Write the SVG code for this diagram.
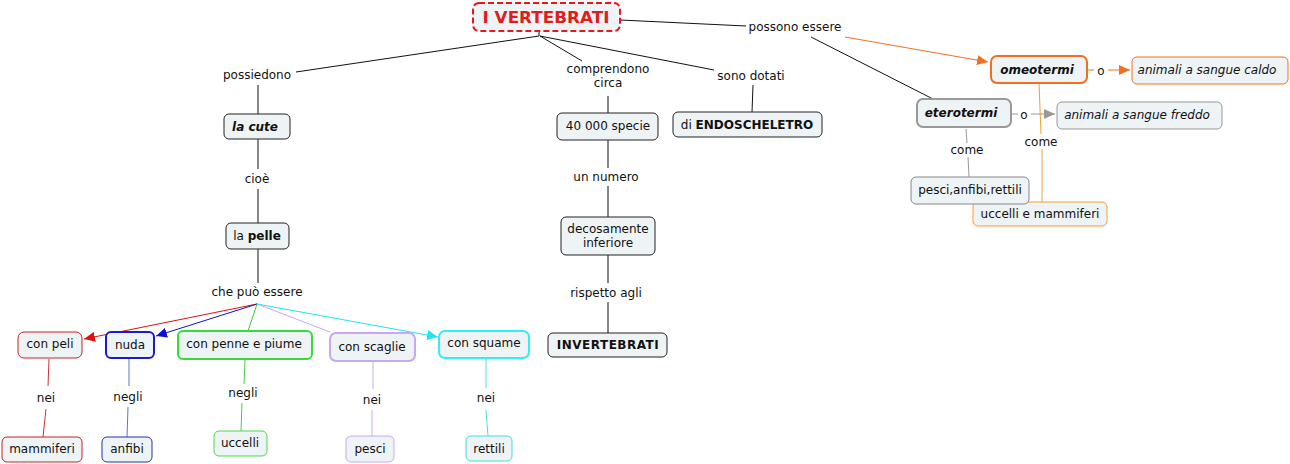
<svg xmlns="http://www.w3.org/2000/svg" width="1290" height="464" viewBox="0 0 1290 464">
<style>
text{font-family:"DejaVu Sans",Verdana,sans-serif;font-size:12px;fill:#111;text-anchor:middle}
.b{font-weight:bold}
.i{font-style:italic}
.box{fill:#eef3f5;stroke:#222;stroke-width:1}
.ln{fill:none;stroke:#111;stroke-width:1}
</style>
<defs>
<marker id="aR" markerUnits="userSpaceOnUse" markerWidth="12" markerHeight="10" refX="11" refY="5" orient="auto"><path d="M0,0 L11,5 L0,10 z" fill="#e01010"/></marker>
<marker id="aB" markerUnits="userSpaceOnUse" markerWidth="12" markerHeight="10" refX="11" refY="5" orient="auto"><path d="M0,0 L11,5 L0,10 z" fill="#1010d0"/></marker>
<marker id="aC" markerUnits="userSpaceOnUse" markerWidth="12" markerHeight="10" refX="11" refY="5" orient="auto"><path d="M0,0 L11,5 L0,10 z" fill="#22e4f0"/></marker>
<marker id="aO" markerUnits="userSpaceOnUse" markerWidth="12" markerHeight="10" refX="11" refY="5" orient="auto"><path d="M0,0 L11,5 L0,10 z" fill="#f07020"/></marker>
<marker id="aG" markerUnits="userSpaceOnUse" markerWidth="12" markerHeight="10" refX="11" refY="5" orient="auto"><path d="M0,0 L11,5 L0,10 z" fill="#999"/></marker>
</defs>

<g id="connectors">
<path class="ln" d="M539,31 L539,36"/>
<path class="ln" d="M539,36 L296,72"/>
<path class="ln" d="M540,36 L582,61"/>
<path class="ln" d="M540,36 L714,70"/>
<path class="ln" d="M620,20 L746,26"/>
<path class="ln" d="M258,85 L258,114"/>
<path class="ln" d="M258,139 L258,169"/>
<path class="ln" d="M258,189 L258,223"/>
<path class="ln" d="M258,249 L258,283"/>
<path class="ln" d="M608,96 L608,113"/>
<path class="ln" d="M608,140 L608,168"/>
<path class="ln" d="M608,186 L608,217"/>
<path class="ln" d="M608,255 L608,283"/>
<path class="ln" d="M608,302 L608,333"/>
<path class="ln" d="M753,85 L752,112"/>
<path class="ln" d="M811,37 L933,99"/>
<path d="M845,37 L988,62" fill="none" stroke="#f07020" stroke-width="1" marker-end="url(#aO)"/>
<path d="M1087,70 L1094,70" fill="none" stroke="#f07020" stroke-width="1"/>
<path d="M1108,70 L1130,70" fill="none" stroke="#f07020" stroke-width="1" marker-end="url(#aO)"/>
<path d="M1011,114 L1018,114" fill="none" stroke="#999" stroke-width="1"/>
<path d="M1031,114 L1055,114" fill="none" stroke="#999" stroke-width="1" marker-end="url(#aG)"/>
<path d="M966,129 L967,143 M968,157 L969,177" fill="none" stroke="#999" stroke-width="1"/>
<path d="M1039,83 L1041,134 M1042,149 L1042,202" fill="none" stroke="#f0a030" stroke-width="1"/>
<path d="M257,304 L84,339" fill="none" stroke="#e01010" stroke-width="1" marker-end="url(#aR)"/>
<path d="M257,304 L156,336" fill="none" stroke="#1010d0" stroke-width="1" marker-end="url(#aB)"/>
<path d="M257,304 L248,331" fill="none" stroke="#33cc33" stroke-width="1"/>
<path d="M257,304 L330,332" fill="none" stroke="#c9a9ee" stroke-width="1"/>
<path d="M257,304 L438,337" fill="none" stroke="#22e4f0" stroke-width="1" marker-end="url(#aC)"/>
<path d="M49,359 L48,386 M46,409 L43,437" fill="none" stroke="#cc3333" stroke-width="1"/>
<path d="M129,359 L129,386 M128,407 L127,437" fill="none" stroke="#5577cc" stroke-width="1"/>
<path d="M245,360 L244,384 M242,403 L241,431" fill="none" stroke="#44cc44" stroke-width="1"/>
<path d="M373,362 L373,389 M372,410 L372,436" fill="none" stroke="#c8aee8" stroke-width="1"/>
<path d="M486,359 L486,388 M486,410 L488,436" fill="none" stroke="#55dddd" stroke-width="1"/>
</g>

<g id="labels">
<text x="257" y="79">possiedono</text>
<text x="608" y="73">comprendono</text>
<text x="608" y="87">circa</text>
<text x="751" y="80">sono dotati</text>
<text x="795" y="31">possono essere</text>
<text x="257" y="183">cioè</text>
<text x="257" y="296">che può essere</text>
<text x="606" y="181">un numero</text>
<text x="606" y="297">rispetto agli</text>
<text x="1101" y="75">o</text>
<text x="1024" y="119">o</text>
<text x="967" y="154">come</text>
<text x="1041" y="146">come</text>
<text x="46" y="402">nei</text>
<text x="128" y="401">negli</text>
<text x="243" y="397">negli</text>
<text x="372" y="404">nei</text>
<text x="486" y="402">nei</text>
</g>

<g id="n-root"><rect x="473" y="3" width="147" height="28" rx="6" fill="#eef3f5" stroke="#e8171b" stroke-width="2" stroke-dasharray="6,3"/><text x="546" y="23" class="b" style="font-size:16px;fill:#e21b1b" textLength="127" lengthAdjust="spacingAndGlyphs">I VERTEBRATI</text></g>
<g id="n-cute"><rect class="box" x="224" y="114" width="66" height="25" rx="5"/><text x="255" y="131" class="b i">la cute</text></g>
<g id="n-pelle"><rect class="box" x="226" y="223" width="63" height="26" rx="5"/><text x="257" y="240">la <tspan class="b">pelle</tspan></text></g>
<g id="n-specie"><rect class="box" x="557" y="113" width="101" height="27" rx="5"/><text x="608" y="130">40 000 specie</text></g>
<g id="n-decos"><rect class="box" x="561" y="217" width="94" height="38" rx="5"/><text x="608" y="233">decosamente</text><text x="608" y="247">inferiore</text></g>
<g id="n-invert"><rect class="box" x="548" y="333" width="119" height="24" rx="5"/><text x="608" y="349" class="b" style="letter-spacing:0.5px">INVERTEBRATI</text></g>
<g id="n-endo"><rect class="box" x="673" y="112" width="149" height="25" rx="5"/><text x="747" y="129">di <tspan class="b">ENDOSCHELETRO</tspan></text></g>
<g id="n-omeo"><rect x="991" y="56" width="96" height="27" rx="6" fill="#eef3f5" stroke="#f07020" stroke-width="2"/><text x="1037" y="74" class="b i">omeotermi</text></g>
<g id="n-caldo"><rect x="1132" y="57" width="156" height="27" rx="5" fill="#eef3f5" stroke="#f07020" stroke-width="1"/><text x="1207" y="74" class="i">animali a sangue caldo</text></g>
<g id="n-etero"><rect x="917" y="99" width="94" height="28" rx="6" fill="#eef3f5" stroke="#999" stroke-width="2"/><text x="961" y="117" class="b i">eterotermi</text></g>
<g id="n-freddo"><rect x="1057" y="102" width="165" height="27" rx="5" fill="#eef3f5" stroke="#999" stroke-width="1"/><text x="1137" y="119" class="i">animali a sangue freddo</text></g>
<g id="n-uccmam"><rect x="973" y="202" width="134" height="24" rx="5" fill="#eef3f5" stroke="#f0a030" stroke-width="1"/><text x="1040" y="218">uccelli e mammiferi</text></g>
<g id="n-pescianf"><rect x="911" y="177" width="118" height="27" rx="5" fill="#eef3f5" stroke="#888" stroke-width="1"/><text x="970" y="194">pesci,anfibi,rettili</text></g>
<g id="n-peli"><rect x="18" y="332" width="64" height="26" rx="6" fill="#eef3f5" stroke="#cc2222" stroke-width="1"/><text x="50" y="348">con peli</text></g>
<g id="n-nuda"><rect x="106" y="332" width="48" height="26" rx="5" fill="#eef3f5" stroke="#1b1bcc" stroke-width="2"/><text x="130" y="349">nuda</text></g>
<g id="n-penne"><rect x="178" y="331" width="134" height="28" rx="5" fill="#eef3f5" stroke="#33dd33" stroke-width="2"/><text x="244" y="348">con penne e piume</text></g>
<g id="n-scaglie"><rect x="330" y="333" width="85" height="28" rx="6" fill="#eef3f5" stroke="#c8a8f0" stroke-width="2"/><text x="372" y="351">con scaglie</text></g>
<g id="n-squame"><rect x="439" y="331" width="90" height="27" rx="6" fill="#eef3f5" stroke="#33eeee" stroke-width="2"/><text x="484" y="347">con squame</text></g>
<g id="n-mammiferi"><rect x="2" y="437" width="80" height="25" rx="5" fill="#eef3f5" stroke="#cc2222" stroke-width="1"/><text x="42" y="453">mammiferi</text></g>
<g id="n-anfibi"><rect x="102" y="437" width="50" height="25" rx="5" fill="#eef3f5" stroke="#2233aa" stroke-width="1"/><text x="127" y="453">anfibi</text></g>
<g id="n-uccelli"><rect x="214" y="431" width="53" height="25" rx="5" fill="#eef3f5" stroke="#44dd44" stroke-width="1"/><text x="240" y="447">uccelli</text></g>
<g id="n-pesci"><rect x="346" y="436" width="48" height="26" rx="5" fill="#eef3f5" stroke="#c8a8f0" stroke-width="1"/><text x="370" y="453">pesci</text></g>
<g id="n-rettili"><rect x="466" y="436" width="46" height="25" rx="5" fill="#eef3f5" stroke="#44dddd" stroke-width="1"/><text x="489" y="453">rettili</text></g>
</svg>
